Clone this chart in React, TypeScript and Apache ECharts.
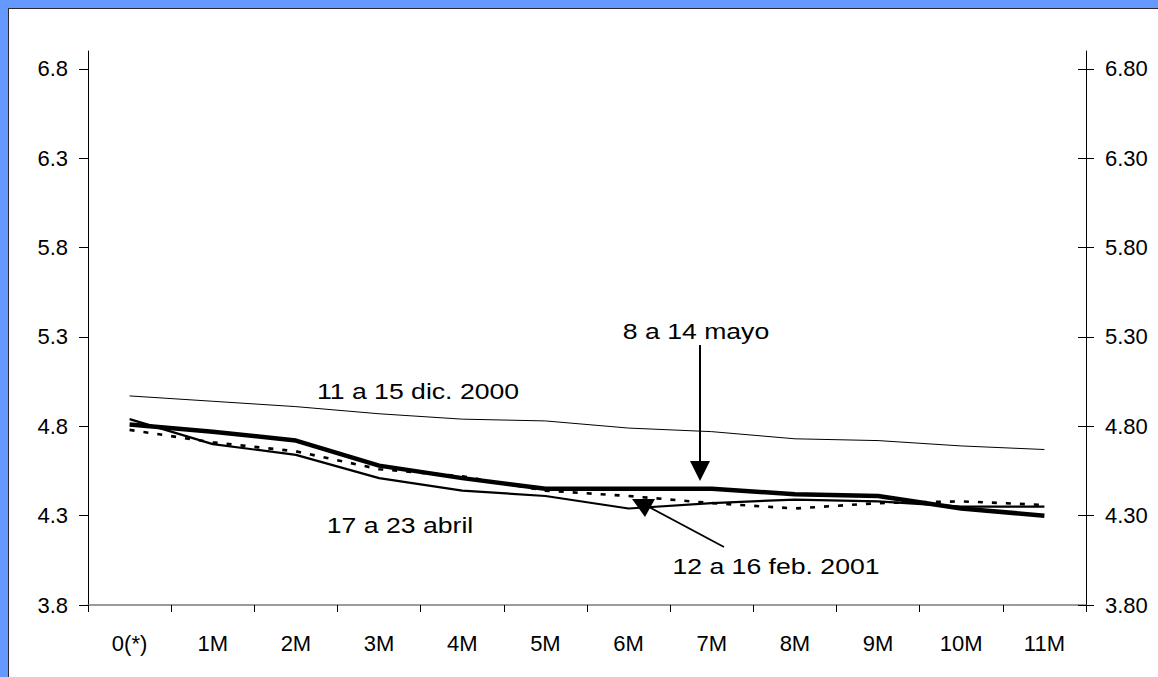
import React, { useEffect, useRef } from "react";
import * as echarts from "echarts";

// Plazos de la curva
const plazos = ["0(*)", "1M", "2M", "3M", "4M", "5M", "6M", "7M", "8M", "9M", "10M", "11M"];

// Tasas por semana de referencia
const dic2000 = [4.97, 4.94, 4.91, 4.87, 4.84, 4.83, 4.79, 4.77, 4.73, 4.72, 4.69, 4.67];
const mayo = [4.81, 4.77, 4.72, 4.58, 4.51, 4.45, 4.45, 4.45, 4.42, 4.41, 4.34, 4.3];
const abril = [4.84, 4.7, 4.64, 4.51, 4.44, 4.41, 4.34, 4.37, 4.39, 4.38, 4.35, 4.35];
const feb2001 = [4.78, 4.71, 4.66, 4.56, 4.52, 4.44, 4.41, 4.37, 4.34, 4.37, 4.38, 4.36];

// Marcas del eje vertical
const yTicks = [3.8, 4.3, 4.8, 5.3, 5.8, 6.3, 6.8];
const Y_MIN = 3.8;
const Y_MAX = 6.9;

const FONT = "'Liberation Sans', Arial, sans-serif";
const FS = 22;
const STRETCH = 1.21;

export default function App() {
  const ref = useRef<HTMLDivElement>(null);

  useEffect(() => {
    document.body.style.margin = "0";
    const chart = echarts.init(ref.current!, null, { renderer: "svg" });
    const textStyle = {
      fontFamily: FONT,
      fontSize: FS,
      fill: "#000",
      align: "center" as const,
      verticalAlign: "middle" as const,
    };
    const label = (text: string, x: number, y: number) => ({
      type: "text",
      x,
      y,
      scaleX: STRETCH,
      style: { ...textStyle, text },
    });
    const baseY = {
      type: "value" as const,
      min: Y_MIN,
      max: Y_MAX,
      splitLine: { show: false },
    };
    chart.setOption({
      animation: false,
      grid: { left: 88, right: 72, top: 51, bottom: 72 },
      xAxis: {
        type: "category",
        data: plazos,
        boundaryGap: true,
        axisLine: { lineStyle: { color: "#7a7a7a", width: 1.5 } },
        axisTick: { show: true, length: 7, lineStyle: { color: "#000" } },
        axisLabel: { color: "#000", fontFamily: FONT, fontSize: FS, margin: 27 },
      },
      yAxis: [
        {
          ...baseY,
          position: "left",
          axisLine: { show: true, lineStyle: { color: "#000", width: 1 } },
          axisTick: { show: true, length: 9, customValues: yTicks, lineStyle: { color: "#000" } },
          axisLabel: {
            color: "#000",
            fontFamily: FONT,
            fontSize: FS,
            margin: 20,
            customValues: yTicks,
            formatter: (v: number) => v.toFixed(1),
          },
        },
        {
          ...baseY,
          position: "right",
          axisLine: { show: true, lineStyle: { color: "#000", width: 1 } },
          axisTick: { show: true, length: 8, customValues: yTicks, lineStyle: { color: "#000" } },
          axisLabel: {
            color: "#000",
            fontFamily: FONT,
            fontSize: FS,
            margin: 19,
            customValues: yTicks,
            formatter: (v: number) => v.toFixed(2),
          },
        },
        {
          ...baseY,
          position: "right",
          axisLine: { show: false },
          axisTick: { show: true, inside: true, length: 8, customValues: yTicks, lineStyle: { color: "#000" } },
          axisLabel: { show: false },
        },
      ],
      series: [
        {
          name: "11 a 15 dic. 2000",
          type: "line",
          data: dic2000,
          showSymbol: false,
          lineStyle: { color: "#000", width: 1 },
        },
        {
          name: "17 a 23 abril",
          type: "line",
          data: abril,
          showSymbol: false,
          lineStyle: { color: "#000", width: 2.2 },
        },
        {
          name: "12 a 16 feb. 2001",
          type: "line",
          data: feb2001,
          showSymbol: false,
          lineStyle: { color: "#000", width: 2.6, type: [5, 9] },
        },
        {
          name: "8 a 14 mayo",
          type: "line",
          data: mayo,
          showSymbol: false,
          lineStyle: { color: "#000", width: 4.5 },
        },
      ],
      graphic: [
        label("11 a 15 dic. 2000", 418, 391),
        label("8 a 14 mayo", 696, 331),
        label("17 a 23 abril", 400, 525),
        label("12 a 16 feb. 2001", 776, 566),
        { type: "line", shape: { x1: 700, y1: 345, x2: 700, y2: 463 }, style: { stroke: "#000", lineWidth: 2 } },
        { type: "polygon", shape: { points: [[690, 461], [710, 461], [700, 481]] }, style: { fill: "#000" } },
        { type: "line", shape: { x1: 724, y1: 547, x2: 649, y2: 507 }, style: { stroke: "#000", lineWidth: 1.8 } },
        { type: "polygon", shape: { points: [[632, 499], [655, 499], [645, 517]] }, style: { fill: "#000" } },
      ],
    });
    return () => chart.dispose();
  }, []);

  return (
    <div style={{ position: "relative", width: 1158, height: 677, background: "#6699ff", overflow: "hidden" }}>
      <div
        style={{
          position: "absolute",
          left: 8,
          top: 8,
          right: 0,
          bottom: 0,
          background: "#fff",
          borderTop: "1px solid #2a2a2a",
          borderLeft: "1px solid #2a2a2a",
        }}
      />
      <div ref={ref} style={{ position: "absolute", left: 0, top: 0, width: 1158, height: 677 }} />
    </div>
  );
}
